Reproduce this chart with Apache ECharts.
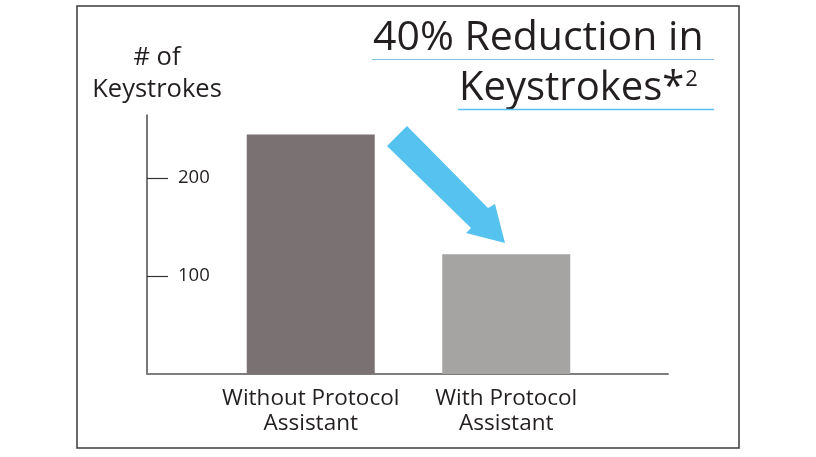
<!DOCTYPE html>
<html>
<head>
<meta charset="utf-8">
<script src="https://cdn.jsdelivr.net/npm/echarts@6/dist/echarts.min.js"></script>
<style>
  html, body { margin: 0; padding: 0; background: #ffffff; }
  #chart { width: 816px; height: 457px; }
</style>
</head>
<body>
<div id="chart"></div>
<script>
// Keystroke counts with and without the Protocol Assistant
const categories = ['Without Protocol\nAssistant', 'With Protocol\nAssistant'];
const keystrokes = [244, 122];
const barColors = ['#7a7272', '#a5a4a3'];
const yTicks = [100, 200];
const yMax = 264;
const yAxisTitle = '# of\nKeystrokes';
const headline1 = '40% Reduction in';
const headline2 = 'Keystrokes*';
const footnoteMark = '2';

const FONT = '"Open Sans", "Noto Sans", sans-serif';
const INK = '#231f20';
const ACCENT = '#56c2f0';

const chart = echarts.init(document.getElementById('chart'), null, { renderer: 'canvas' });

const gridTop = 115, gridHeight = 259;

chart.setOption({
  animation: false,
  backgroundColor: '#ffffff',
  grid: [
    // frame grid: carries the long axis lines
    { left: 147, top: gridTop, width: 521, height: gridHeight },
    // bar grid: holds the two bars
    { left: 213, top: gridTop, width: 391, height: gridHeight }
  ],
  xAxis: [
    {
      gridIndex: 0, type: 'category', data: [''],
      axisLine: { lineStyle: { color: '#7d7d7d', width: 2 } },
      axisTick: { show: false }, axisLabel: { show: false }
    },
    {
      gridIndex: 1, type: 'category', data: categories,
      axisLine: { show: false }, axisTick: { show: false },
      axisLabel: {
        color: INK, fontFamily: FONT, fontSize: 22.5, lineHeight: 25,
        margin: 12, interval: 0
      }
    }
  ],
  yAxis: [
    {
      gridIndex: 0, type: 'value', min: 0, max: yMax,
      name: yAxisTitle, nameLocation: 'end', nameGap: 9,
      nameTextStyle: {
        color: INK, fontFamily: FONT, fontSize: 25.5, lineHeight: 32,
        align: 'center', verticalAlign: 'bottom', padding: [0, 0, 0, 20]
      },
      splitLine: { show: false },
      axisLine: { show: true, lineStyle: { color: '#4a4a4a', width: 1.5 } },
      axisTick: { show: true, inside: true, length: 21, customValues: yTicks,
                  lineStyle: { color: '#333333', width: 1.2 } },
      axisLabel: { inside: true, margin: 31, customValues: yTicks,
                   color: INK, fontFamily: FONT, fontSize: 18.5 }
    },
    {
      gridIndex: 1, type: 'value', min: 0, max: yMax, show: false,
      splitLine: { show: false }
    }
  ],
  series: [{
    type: 'bar',
    xAxisIndex: 1, yAxisIndex: 1,
    barWidth: 128,
    data: keystrokes.map((v, i) => ({ value: v, itemStyle: { color: barColors[i] } })),
    z: 1
  }],
  graphic: [
    // outer frame
    { type: 'rect', shape: { x: 77, y: 6, width: 662, height: 442 },
      style: { fill: null, stroke: '#3a3a3a', lineWidth: 1.5 }, z: 0 },
    // headline
    { type: 'text', x: 373, y: 38,
      style: { text: headline1, fill: INK, font: '41px ' + FONT, verticalAlign: 'middle' } },
    { type: 'line', shape: { x1: 372, y1: 59.5, x2: 714, y2: 59.5 },
      style: { stroke: '#7fbfdf', lineWidth: 1.2 } },
    { type: 'text', x: 459, y: 89,
      style: {
        text: '{a|' + headline2 + '}{s|' + footnoteMark + '}',
        verticalAlign: 'middle',
        rich: {
          a: { fill: INK, fontFamily: FONT, fontSize: 40 },
          s: { fill: INK, fontFamily: FONT, fontSize: 22, verticalAlign: 'top', padding: [0, 0, 14, 1] }
        }
      } },
    { type: 'line', shape: { x1: 458, y1: 109.5, x2: 714, y2: 109.5 },
      style: { stroke: ACCENT, lineWidth: 1.5 } },
    // arrow pointing from the taller bar down to the shorter one
    { type: 'polygon',
      shape: { points: [[407, 126], [488, 208], [495, 204], [505, 243], [466, 233], [471, 228], [387, 146]] },
      style: { fill: ACCENT } }
  ]
});
</script>
</body>
</html>
